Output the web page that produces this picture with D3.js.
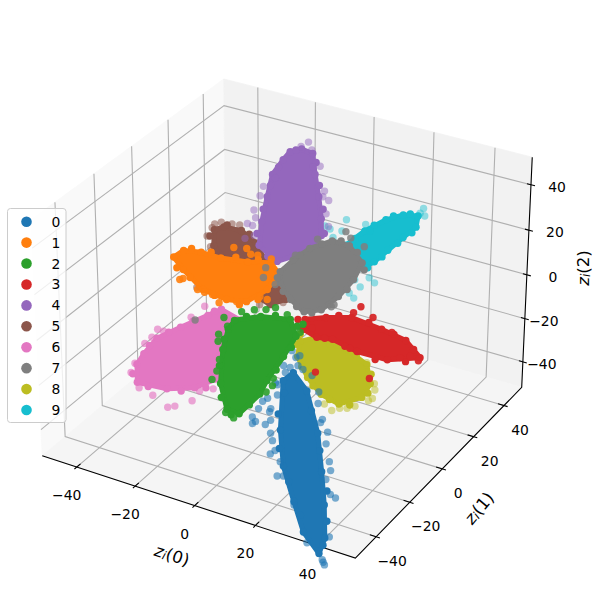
<!DOCTYPE html>
<html><head><meta charset="utf-8">
<script src="https://d3js.org/d3.v7.min.js"></script>
<style>html,body{margin:0;padding:0;background:#fff}svg{display:block}text{font-family:"DejaVu Sans",sans-serif}</style>
</head><body><div id="c"></div>
<script>
const categories=["0","1","2","3","4","5","6","7","8","9"];
const tab10=["#1f77b4","#ff7f0e","#2ca02c","#d62728","#9467bd","#8c564b","#e377c2","#7f7f7f","#bcbd22","#17becf"];
const tickValues=[-40,-20,0,20,40];
const drawOrder=[5,9,4,6,8,0,3,1,2,7];
const zLevel=[-40,10,-20,-20,40,10,-10,10,-20,20];
const dotAlpha=[.6,.9,.9,.95,.5,.55,.65,.85,.5,.45];

const core0=[[-4.6,12.1],[4.1,5],[18.3,-13.6],[29.3,-30.8],[38.2,-45.1],[46.3,-59.2],[48.6,-66.5],[39.8,-59.6],[30,-47.8],[18.4,-33.6],[8.1,-17.5],[-4.9,6.6]];
const rim0=[[10.7,-3.9],[23.4,-21.4],[35.4,-38.6],[42.8,-51.8],[47.6,-62.5],[35,-52.9],[23.8,-39.9],[12.8,-26.2],[3.2,-10.3],[-1.1,.7]];
const dots0=[[51.6,-69.5],[52.5,-70.4],[50.8,-68.6],[39.2,-40.5],[37.1,-39.7],[19.5,-39],[21,-38.1],[28.6,-25.1],[23.2,-17.4],[20.5,-11.7],[16.2,-8.2],[6.5,-20.4],[12.3,-27.8],[16.5,-32.1],[-.7,-18.5],[-2.5,-15.5],[-.5,-17.1],[3,-14.4],[.4,-10.5],[47.1,-58.1],[43.2,-63.6],[30.9,-49.3],[32.3,-33.7],[7.4,6.3],[1.1,13.4],[-3.9,-4.3],[-2.3,-1.3],[-3,15.1],[-11.3,23],[-9.2,14.2],[-7.8,21.6],[-4.3,-6.5],[-3.3,-10.6],[-5.2,3.7],[-8.3,20.1],[-6.9,14.2],[-5.4,16.3],[-6.7,11],[-6.3,4.4],[-.2,-8.8],[2.8,-17.1],[9,-23.6],[12,-30],[31.2,-29],[15.8,-6.4],[10.4,.6]];
const core1=[[-36.8,-2.4],[-36.4,2.5],[-31.3,4.1],[-24.5,4],[-16.5,5.9],[-10.4,8.8],[-5.5,4.8],[-3.3,-5.3],[-4.9,-14.3],[-10.5,-16.1],[-19.4,-14.5],[-30.4,-7.4]];
const rim1=[[-35,4.7],[-28.8,5.6],[-21,6.7],[-14.4,8.5],[-26.2,-10.4],[-14.7,-15.8],[-5.8,-16.8],[-2.7,-11.6],[-3.6,-.7],[-32.6,-7.4],[-.8,-.4],[-4.7,7.4]];
const dots1=[[-28.2,-12.9],[-27.7,-11.9],[-20.7,-15.3],[-18.1,-15.7],[-15.5,-15.6],[-11.4,-18.7],[-24.5,11.4],[-20.9,12.8],[-18.1,10.4],[-11.4,10.9],[-16,10.9],[-.4,-10.3],[-3.1,-9.8],[-7.4,-15.7]];
const core2=[[-22.4,7.9],[-16.8,13.8],[-8.3,16.7],[-1.9,9],[.7,-2.9],[3.3,-16.9],[5.3,-24.4],[5.6,-36.4],[1.4,-36.1],[-7.4,-25],[-16.7,-8.3],[-21.3,2.5]];
const rim2=[[-20.5,11.7],[-13.3,16.5],[-4.5,14.2],[.1,2.7],[2.7,-10.6],[5.7,-30.9],[3.9,-38],[-3.3,-31.4],[-12.8,-16.7],[-19.4,-3.1],[-3.6,16.1]];
const dots2=[[5.4,-39.1],[2,-37.8],[-10.7,-24.3],[-11.9,-19.6],[-14.6,-13.7],[-20.3,-5],[-22.3,-1.4],[-22.4,3.9],[-26,7.8],[-20.5,16.3],[-15.6,20.5],[-10.5,18.7],[4.3,-15],[6.1,-18.6],[6.3,-22.5],[-2,11.6],[-23.2,13.4],[-17.5,18.1]];
const core3=[[-4.5,18.9],[.4,23],[7,26.8],[18,25.2],[27.3,23],[35.5,16.4],[27.8,10.6],[17.9,10.3],[8.3,12.8],[3.7,11.5],[-2.1,13.6]];
const rim3=[[3.1,25.9],[12.8,26.8],[22.6,24.4],[31.7,19.6],[32.9,12.3],[24.7,8.9],[13.4,11.1],[6,12.2],[-6.3,17.8]];
const dots3=[[6.3,33.8],[6.1,29.6],[12.5,30],[13.1,-5.9],[28.3,-1.2],[35.9,14.6],[32.7,15.5],[21.5,25.1],[-.1,15.4],[-3,14.4],[30.4,13.5],[15.2,10.8]];
const core4=[[-19.1,35.3],[-17,38.5],[-12.7,37.6],[-5.5,26.3],[2.3,14.7],[9.5,3.4],[14.4,-5.2],[15.8,-15.1],[11.1,-24.4],[2.1,-18.9],[-4.3,-6.5],[-10.6,7.3],[-16.3,20.1],[-18.3,29.8]];
const rim4=[[-17.1,25],[-13.3,13.8],[-7.8,.2],[-1.9,-13.2],[-9,33.1],[-1,20.9],[7.1,8.7],[14.5,-3.7],[16.9,-12.4],[14.8,-20.3],[7.4,-23.2],[-18.2,37.2]];
const dots4=[[-17.5,43.5],[-18,39.9],[-6.8,31.6],[-14.8,12.3],[-12.7,6.8],[2,18.6],[5.9,14.1],[3.3,15.3],[-9.8,-1.6],[-7,-5.4],[-7.3,-9.5],[-5.4,-9.8],[9.2,6.7],[13.5,.4],[13.3,-3.1],[-3.4,-17.4],[-2,-14.6],[-14.1,39.5],[-8.3,30.1],[-14.4,18.5]];
const core5=[[-35.2,18],[-33.6,20.9],[-27.9,21.5],[-20.3,17.1],[-8.4,5.2],[4.1,-7.6],[1.8,-12.4],[-8.8,-8.4],[-21,2.7],[-30.2,9.4]];
const rim5=[[-34.3,13.9],[-33.4,22.4],[-24.7,20.7],[-27.5,6.3],[-22.8,2.3]];
const dots5=[[-35.8,23],[-36.4,18.7],[-30.1,24.2],[-32.4,23.6],[-30.7,8.4],[-21.5,-14.4],[-21.1,-13.5],[-3.3,-1.9],[4.4,-9.5],[-.8,-13.9],[-35,13.5],[-36.9,21]];
const core6=[[-27.1,-38.4],[-28.5,-32.5],[-29.9,-23.2],[-27.3,-14.4],[-24,-4.5],[-22.4,.5],[-14.2,-2.2],[-6.8,-18],[-3.4,-34.1],[-6.1,-41.1],[-12.6,-45.5],[-21.7,-46.7]];
const rim6=[[-29.6,-27.7],[-28.8,-18.6],[-26,-9.6],[-23.6,-1.5],[-25.3,-43.4],[-17.8,-47.1],[-8.5,-44.5],[-3.4,-39.5],[-5,-25],[-10.4,-10]];
const dots6=[[-7.2,-53.7],[-5.8,-52.2],[-3.1,-47.4],[-14.2,-50.4],[-26.1,-43.1],[-27.9,-38.2],[-31.4,-27.4],[-32.5,-18.7],[-30.4,-18.8],[-31.5,-23.4],[-27.7,-7.9],[-27.6,-.4],[-4,-41.9],[-1.3,-39],[-19.7,-48.9]];
const core7=[[-5.3,5.6],[-5.5,13.6],[-4.8,22.1],[-1.3,29.4],[4.5,29.4],[12.8,22.1],[15.4,12.2],[16.4,1.4],[15.9,-7.7],[12.2,-11.1],[5.4,-6.9],[-2.1,.1]];
const rim7=[[-5.2,17.1],[-3.1,26.3],[1,30.7],[8.5,27],[15.3,18.8],[16.6,6.2],[16.4,-4],[14.4,-10.5],[8.9,-9.6],[1.2,-3.9],[-4.3,2.2]];
const dots7=[[8.6,31.1],[2.6,33.7],[-.6,36.5],[17.5,-4.7],[17.6,-3.3],[-12.2,-30.5],[-6.4,16.4],[-10.2,5.6],[-7.8,.2],[-2.8,-1.6],[-5.6,28.2]];
const core8=[[.6,7],[3.7,11.5],[14.8,9.8],[24,5.1],[29.9,-3.6],[31.4,-11.4],[27.5,-17.8],[20.5,-15.7],[12.6,-9.6],[4.3,-.9]];
const rim8=[[9.1,9.9],[18.8,8.2],[27.6,1.1],[31.8,-8.5],[30.4,-16.7],[24,-17],[16.2,-12.8],[8.2,-5.3],[.5,5],[-1.4,10.6]];
const dots8=[[27.4,-21.8],[28.8,-19.7],[30.6,-18.6],[32,-16.5],[33.9,-12],[34.3,-10.4],[32.7,-6],[30.9,-3],[23.9,-19.8],[23.4,6.1]];
const core9=[[19.8,43.5],[15.7,41.9],[12.7,36.7],[10.6,27.6],[10,17.2],[17.2,4.6],[20.3,7.7],[21.9,12.6],[22,20.6],[22.2,29.6],[22.5,37.1]];
const rim9=[[11.3,32],[10.4,22.1],[13.5,39.9],[17.2,43.5],[22.5,25.7],[22.4,16.3],[21.9,8.6],[23.1,33.4]];
const dots9=[[19,48.5],[19.5,45.4],[21.5,44.5],[2.6,30.9],[8.9,31.2],[-1,24.3],[1.2,23.5],[4.8,24.2],[4.5,19.4],[15.2,19.5],[11.9,28.3],[25.1,3.7],[27.8,1.9],[25.4,-2.2],[24.4,-6.8],[26.9,-8.7],[22.1,.6]];
const cores=[core0,core1,core2,core3,core4,core5,core6,core7,core8,core9];
const rims=[rim0,rim1,rim2,rim3,rim4,rim5,rim6,rim7,rim8,rim9];
const dots=[dots0,dots1,dots2,dots3,dots4,dots5,dots6,dots7,dots8,dots9];

const lim=[-52,52];
const bx=1.1905,by=1.1905,bz=0.8929;
const sX=d3.scaleLinear().domain(lim).range([0,bx]);
const sY=d3.scaleLinear().domain(lim).range([0,by]);
const sZ=d3.scaleLinear().domain(lim).range([0,bz]);
const elev=30*Math.PI/180,azim=-60*Math.PI/180,dist=10;
const w=[Math.cos(elev)*Math.cos(azim),Math.cos(elev)*Math.sin(azim),Math.sin(elev)];
const u=[-Math.sin(azim),Math.cos(azim),0];
const v=[w[1]*u[2]-w[2]*u[1],w[2]*u[0]-w[0]*u[2],w[0]*u[1]-w[1]*u[0]];
const pxScale=d3.scaleLinear().domain([0,.1]).range([286.4,587.7]);
const pyScale=d3.scaleLinear().domain([0,.1]).range([307,5.7]);
function P(x,y,z){
  const d=[sX(x)-bx/2,sY(y)-by/2,sZ(z)-bz/2];
  const dot=a=>a[0]*d[0]+a[1]*d[1]+a[2]*d[2];
  const ze=dist-dot(w);
  return [pxScale(dot(u)/ze),pyScale(dot(v)/ze)];
}
const [a,b]=lim;
const svg=d3.select("#c").append("svg").attr("width",600).attr("height",600);
const line=d3.line();
const poly=(pts,fill)=>svg.append("path").attr("d",line(pts.map(p=>P(...p)))+"Z").attr("fill",fill).attr("stroke",fill).attr("stroke-width",.8);
poly([[a,a,a],[a,b,a],[a,b,b],[a,a,b]],"#f9f9f9");
poly([[a,b,a],[b,b,a],[b,b,b],[a,b,b]],"#f2f2f2");
poly([[a,a,a],[b,a,a],[b,b,a],[a,b,a]],"#f5f5f5");
const stroke=(pts,col,wd)=>svg.append("path").attr("d",line(pts.map(p=>P(...p)))).attr("fill","none").attr("stroke",col).attr("stroke-width",wd);
const grid="#b0b0b0";
tickValues.forEach(t=>{
  stroke([[t,a,a],[t,b,a],[t,b,b]],grid,1.1);
  stroke([[b,t,a],[a,t,a],[a,t,b]],grid,1.1);
  stroke([[b,b,t],[a,b,t],[a,a,t]],grid,1.1);
});
stroke([[a,a,a],[b,a,a],[b,b,a],[b,b,b]],"#000",1.1);
const tick=(pts)=>stroke(pts,"#000",1.1);
const lab=(s,x,y)=>svg.append("text").attr("x",x).attr("y",y).attr("text-anchor","middle").attr("dominant-baseline","central").attr("font-size",13.9).attr("fill","#000").text(String(s).replace("-","\u2212"));
tickValues.forEach(t=>{
  tick([[t,a-1.2,a],[t,a+2,a]]);
  tick([[b+1.2,t,a],[b-2,t,a]]);
  tick([[b+1.3,b,t],[b-1.3,b,t]]);
  let p=P(t,a,a); lab(t,p[0]-10,p[1]+28);
  p=P(b,t,a); lab(t,p[0]+16,p[1]+24);
  p=P(b,b,t); lab(t,p[0]+(t<0?19:26),p[1]+2);
});
function axisLabel(n,x,y,rot){
  const g=svg.append("text").attr("transform",`translate(${x},${y}) rotate(${rot})`).attr("text-anchor","middle").attr("dominant-baseline","central").attr("font-size",16.7).attr("fill","#000");
  g.append("tspan").attr("font-style","italic").text("z");
  g.append("tspan").attr("font-style","italic").attr("font-size",11.7).attr("dy",3).text("i");
  g.append("tspan").attr("dy",-3).text(`(${n})`);
}
axisLabel(0,172,555,18);
axisLabel(1,479,508,-50);
axisLabel(2,583,268,-90);
drawOrder.forEach(i=>{
  const g=svg.append("g");
  const pts=cores[i].map(p=>P(p[0],p[1],zLevel[i]));
  g.append("path").attr("d",line(pts)+"Z").attr("fill",tab10[i]).attr("stroke",tab10[i]).attr("stroke-width",5).attr("stroke-linejoin","round");
  g.selectAll("c.k").data(pts.concat(rims[i].map(p=>P(p[0],p[1],zLevel[i])))).join("circle").attr("cx",d=>d[0]).attr("cy",d=>d[1]).attr("r",3.7).attr("fill",tab10[i]);
  g.selectAll("c.d").data(dots[i].map(p=>P(p[0],p[1],zLevel[i]))).join("circle").attr("cx",d=>d[0]).attr("cy",d=>d[1]).attr("r",3.7).attr("fill",tab10[i]).attr("fill-opacity",dotAlpha[i]);
});
const lg=svg.append("g");
lg.append("rect").attr("x",7.5).attr("y",208.5).attr("width",58.5).attr("height",214).attr("rx",3).attr("fill","#fff").attr("fill-opacity",.8).attr("stroke","#ccc").attr("stroke-width",1);
const ly=d3.scaleLinear().domain([0,9]).range([221.7,410]);
categories.forEach((c,i)=>{
  lg.append("circle").attr("cx",26.5).attr("cy",ly(i)).attr("r",5.3).attr("fill",tab10[i]);
  lg.append("text").attr("x",56).attr("y",ly(i)).attr("text-anchor","middle").attr("dominant-baseline","central").attr("font-size",13.9).attr("fill","#000").text(c);
});
</script></body></html>
